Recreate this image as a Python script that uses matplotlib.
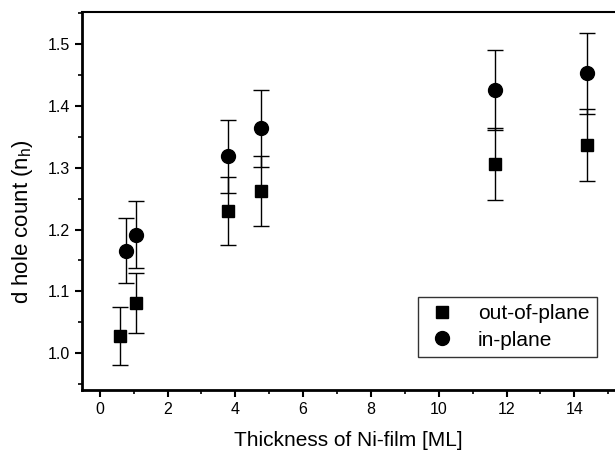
import matplotlib
matplotlib.use('Agg')
import matplotlib.pyplot as plt
from matplotlib.ticker import MultipleLocator

plt.rcParams['font.family'] = ['Liberation Sans', 'DejaVu Sans']

# 数据：out-of-plane（方块）与 in-plane（圆点）
x_out = [0.6, 1.08, 3.77, 4.77, 11.66, 14.36]
y_out = [1.028, 1.081, 1.230, 1.262, 1.306, 1.337]
err_out = [0.047, 0.048, 0.055, 0.057, 0.058, 0.059]

x_in = [0.77, 1.08, 3.77, 4.77, 11.66, 14.36]
y_in = [1.166, 1.192, 1.319, 1.364, 1.426, 1.453]
err_in = [0.053, 0.054, 0.059, 0.062, 0.064, 0.066]

fig = plt.figure(figsize=(6.15, 4.5), dpi=100)
ax = fig.add_axes([0.133, 0.133, 0.867, 0.84])

ax.errorbar(x_out, y_out, yerr=err_out, fmt='s', color='black', ms=9,
            ecolor='black', elinewidth=1, capsize=6, capthick=1,
            label='out-of-plane')
ax.errorbar(x_in, y_in, yerr=err_in, fmt='o', color='black', ms=10,
            ecolor='black', elinewidth=1, capsize=6, capthick=1,
            label='in-plane')

ax.set_xlim(-0.53, 15.2)
ax.set_ylim(0.94, 1.552)
ax.xaxis.set_major_locator(MultipleLocator(2))
ax.xaxis.set_minor_locator(MultipleLocator(1))
ax.yaxis.set_major_locator(MultipleLocator(0.1))
ax.yaxis.set_minor_locator(MultipleLocator(0.05))
ax.yaxis.set_major_formatter(plt.FuncFormatter(lambda v, p: f'{v:.1f}'))

ax.tick_params(which='major', direction='out', length=5, width=1.5, labelsize=11.5)
ax.tick_params(which='minor', direction='out', length=3, width=1.2)
ax.tick_params(top=False, right=False)

ax.spines['left'].set_linewidth(2)
ax.spines['bottom'].set_linewidth(2)
ax.spines['top'].set_linewidth(1.5)
ax.spines['right'].set_visible(False)

ax.set_xlabel('Thickness of Ni-film [ML]', fontsize=15, labelpad=10)
ax.set_ylabel('d hole count (n$_\\mathregular{h}$)', fontsize=16)
ax.yaxis.set_label_coords(-0.088, 0.447)

handles, labels = ax.get_legend_handles_labels()
handles = [h[0] for h in handles]
leg = ax.legend(handles, labels, loc='lower right', bbox_to_anchor=(0.985, 0.06),
                fontsize=15, frameon=True, fancybox=False, edgecolor='black',
                handletextpad=0.9, borderpad=0.35, labelspacing=0.35, handlelength=1.6)
leg.get_frame().set_linewidth(1)

fig.savefig('out.png', dpi=100)
